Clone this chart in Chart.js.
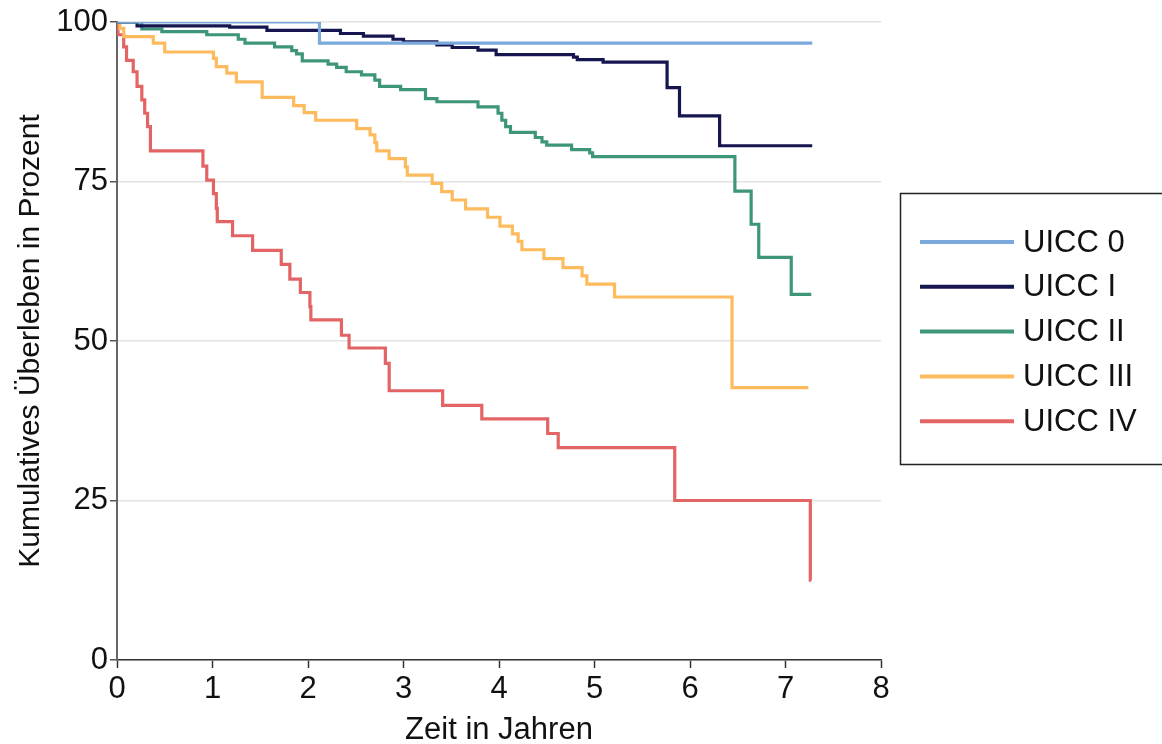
<!DOCTYPE html>
<html>
<head>
<meta charset="utf-8">
<script src="https://cdn.jsdelivr.net/npm/chart.js@4"></script>
<style>
  html, body { margin: 0; padding: 0; background: #fff; }
  canvas { display: block; }
</style>
</head>
<body>
<canvas id="km-chart" width="1162" height="744"></canvas>
<script>
// --- Data ---
const seriesNames = ['UICC 0', 'UICC I', 'UICC II', 'UICC III', 'UICC IV'];

const timesUICC0 = [0, 2.12, 7.28];
const survUICC0  = [100, 96.7, 96.7];

const timesUICC1 = [0, 0.21, 1.18, 1.57, 2.34, 2.58, 2.89, 3.0, 3.35, 3.51, 3.78, 3.97, 4.78, 4.82, 5.09, 5.76, 5.89, 6.31, 7.28];
const survUICC1  = [100, 99.4, 99.2, 98.7, 98.2, 97.8, 97.3, 96.9, 96.4, 96.0, 95.6, 94.9, 94.5, 94.1, 93.7, 89.7, 85.3, 80.6, 80.6];

const timesUICC2 = [0, 0.26, 0.47, 0.94, 1.27, 1.34, 1.65, 1.83, 1.88, 1.94, 2.21, 2.30, 2.40, 2.56, 2.70, 2.75, 2.97, 3.23, 3.35, 3.78, 3.99, 4.03, 4.07, 4.12, 4.38, 4.45, 4.50, 4.76, 4.95, 4.98, 6.47, 6.64, 6.72, 7.06, 7.27];
const survUICC2  = [100, 98.9, 98.5, 98.0, 97.3, 96.7, 96.1, 95.5, 95.0, 93.9, 93.4, 92.9, 92.2, 91.7, 90.9, 89.9, 89.4, 88.0, 87.5, 86.7, 85.7, 84.6, 83.6, 82.7, 81.9, 81.2, 80.7, 80.0, 79.5, 78.9, 73.5, 68.3, 63.1, 57.3, 57.3];

const timesUICC3 = [0, 0.03, 0.07, 0.38, 0.50, 1.01, 1.04, 1.15, 1.25, 1.52, 1.85, 1.96, 2.08, 2.51, 2.65, 2.70, 2.72, 2.85, 3.02, 3.04, 3.30, 3.40, 3.51, 3.65, 3.88, 4.01, 4.14, 4.20, 4.24, 4.47, 4.67, 4.87, 4.92, 5.21, 6.44, 7.24];
const survUICC3  = [100, 99.0, 97.7, 96.7, 95.3, 94.3, 93.0, 92.0, 90.6, 88.2, 86.9, 85.8, 84.6, 83.3, 82.3, 81.1, 79.8, 78.6, 77.3, 76.0, 74.7, 73.4, 72.1, 70.7, 69.4, 68.0, 66.8, 65.6, 64.3, 62.9, 61.5, 60.2, 58.9, 56.9, 42.7, 42.7];

const timesUICC4 = [0, 0.01, 0.07, 0.10, 0.17, 0.21, 0.26, 0.29, 0.32, 0.35, 0.90, 0.94, 1.01, 1.04, 1.05, 1.21, 1.42, 1.72, 1.81, 1.92, 2.02, 2.03, 2.35, 2.43, 2.81, 2.85, 3.41, 3.82, 4.51, 4.62, 5.84, 7.26, 7.27];
const survUICC4  = [100, 98.0, 96.1, 94.0, 92.2, 89.9, 87.8, 85.7, 83.6, 79.8, 77.4, 75.2, 73.1, 70.8, 68.7, 66.5, 64.2, 62.0, 59.7, 57.6, 55.4, 53.3, 50.9, 48.9, 46.5, 42.2, 39.9, 37.8, 35.5, 33.3, 25.0, 12.5, 12.5];

const xTicks = [0, 1, 2, 3, 4, 5, 6, 7, 8];
const yTicks = [0, 25, 50, 75, 100];

const colors = ['#7aa9db', '#15154f', '#3d957a', '#fdbb5e', '#e36464'];

const allTimes = [timesUICC0, timesUICC1, timesUICC2, timesUICC3, timesUICC4];
const allSurv  = [survUICC0, survUICC1, survUICC2, survUICC3, survUICC4];

const FONT = '"Liberation Sans", Arial, sans-serif';

// legend box drawn on the canvas, like the original
const boxLegend = {
    id: 'boxLegend',
    afterDraw(chart) {
        const ctx = chart.ctx;
        ctx.save();
        ctx.strokeStyle = '#222';
        ctx.lineWidth = 1.5;
        ctx.strokeRect(900.5, 193.5, 300, 271);
        ctx.font = '31px ' + FONT;
        ctx.textBaseline = 'middle';
        chart.data.datasets.forEach((ds, i) => {
            const y = 242 + i * 44.8;
            ctx.strokeStyle = ds.borderColor;
            ctx.lineWidth = 4;
            ctx.beginPath();
            ctx.moveTo(920, y);
            ctx.lineTo(1014, y);
            ctx.stroke();
            ctx.fillStyle = '#111';
            ctx.fillText(ds.label, 1023, y + 1);
        });
        ctx.restore();
    }
};

const ctx = document.getElementById('km-chart').getContext('2d');
new Chart(ctx, {
    type: 'line',
    data: {
        datasets: seriesNames.map((name, i) => ({
            label: name,
            data: allTimes[i].map((t, j) => ({ x: t, y: allSurv[i][j] })),
            borderColor: colors[i],
            borderWidth: 3.2,
            stepped: true,
            pointRadius: 0,
            fill: false
        }))
    },
    options: {
        responsive: false,
        animation: false,
        layout: { padding: { left: 0, top: 22, right: 281, bottom: 0 } },
        plugins: { legend: { display: false }, tooltip: { enabled: false } },
        scales: {
            x: {
                type: 'linear',
                min: 0, max: 8,
                afterFit: s => { s.height = 84; },
                afterBuildTicks: s => { s.ticks = xTicks.map(v => ({ value: v })); },
                grid: { drawOnChartArea: false, drawTicks: true, tickLength: 8, tickColor: '#333', tickWidth: 1.5 },
                border: { color: '#333', width: 1.5 },
                ticks: { color: '#111', font: { family: FONT, size: 31 }, padding: 3 },
                title: { display: true, text: 'Zeit in Jahren', color: '#111', font: { family: FONT, size: 31 }, padding: { top: 0, bottom: -5 } }
            },
            y: {
                min: 0, max: 100,
                afterFit: s => { s.width = 117; },
                afterBuildTicks: s => { s.ticks = yTicks.map(v => ({ value: v })); },
                grid: { color: '#e3e3e3', lineWidth: 1.5, drawTicks: true, tickLength: 7, tickColor: '#555', tickWidth: 1.5 },
                border: { color: '#666', width: 2 },
                ticks: { color: '#111', font: { family: FONT, size: 31 }, padding: 2 },
                title: { display: true, text: 'Kumulatives Überleben in Prozent', color: '#111', font: { family: FONT, size: 30 }, padding: { top: 13, bottom: 0 } }
            }
        }
    },
    plugins: [boxLegend]
});
</script>
</body>
</html>
